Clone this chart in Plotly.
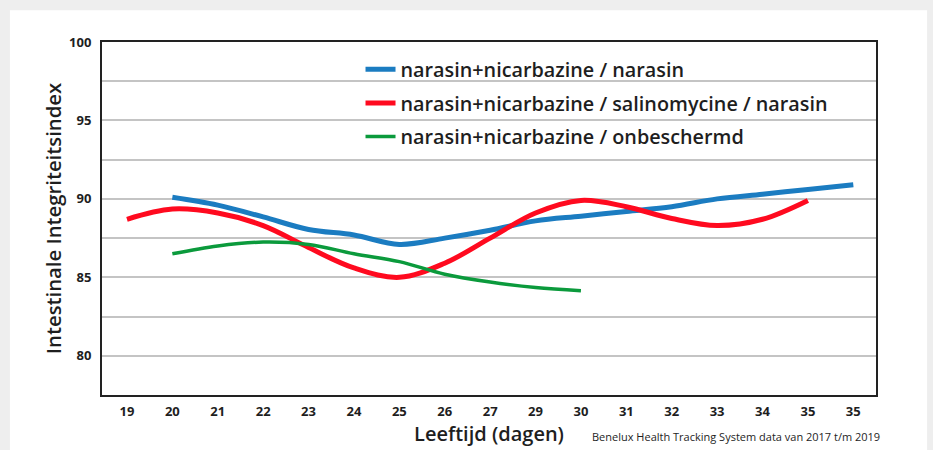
import plotly.graph_objects as go

# Categories (age in days, as printed on the x axis)
x_labels = ["19", "20", "21", "22", "23", "24", "25", "26", "27", "29",
            "30", "31", "32", "33", "34", "35", "35"]
x_pos = list(range(len(x_labels)))

# Series values (Intestinale Integriteitsindex)
blue_x = x_pos[1:17]
blue_y = [90.1, 89.6, 88.85, 88.05, 87.7, 87.1, 87.5, 88.0, 88.6, 88.9,
          89.2, 89.5, 90.0, 90.3, 90.6, 90.9]

red_x = x_pos[0:16]
red_y = [88.7, 89.35, 89.1, 88.3, 86.9, 85.6, 85.0, 85.9, 87.5, 89.1,
         89.9, 89.5, 88.75, 88.3, 88.7, 89.9]

green_x = x_pos[1:11]
green_y = [86.5, 87.0, 87.25, 87.1, 86.5, 86.0, 85.2, 84.7, 84.35, 84.15]

y_tickvals = [80, 82.5, 85, 87.5, 90, 92.5, 95, 97.5, 100]
y_ticktext = ["80", "", "85", "", "90", "", "95", "", "100"]

series_names = [
    "narasin+nicarbazine / narasin",
    "narasin+nicarbazine / salinomycine / narasin",
    "narasin+nicarbazine / onbeschermd",
]

FONT = "Open Sans"
DARK = "#1e1e1e"

fig = go.Figure()
fig.add_trace(go.Scatter(x=blue_x, y=blue_y, mode="lines", name=series_names[0],
                         legendgroup="a",
                         line=dict(color="#1b7cc1", width=5, shape="spline", smoothing=1.0)))
fig.add_trace(go.Scatter(x=red_x, y=red_y, mode="lines", name=series_names[1],
                         legendgroup="b",
                         line=dict(color="#ff0a1f", width=5, shape="spline", smoothing=1.0)))
fig.add_trace(go.Scatter(x=green_x, y=green_y, mode="lines", name=series_names[2],
                         legendgroup="c",
                         line=dict(color="#0b9a3c", width=3.5, shape="spline", smoothing=1.0)))

fig.update_layout(
    width=933, height=450,
    margin=dict(l=102, r=57, t=42, b=55),
    paper_bgcolor="#eeeeee",
    plot_bgcolor="white",
    font=dict(family=FONT, color=DARK),
    showlegend=True,
    legend=dict(
        x=0.334, y=0.978, xanchor="left", yanchor="top",
        bgcolor="rgba(0,0,0,0)",
        font=dict(family=FONT, size=19.8, color=DARK, weight=600),
        tracegroupgap=5, itemwidth=30,
    ),
    xaxis=dict(
        range=[-0.55, 16.5], automargin=False,
        tickmode="array", tickvals=x_pos, ticktext=x_labels,
        tickfont=dict(family=FONT, size=13, color=DARK, weight="bold"),
        showgrid=False, zeroline=False,
        showline=True, linecolor="#222222", linewidth=2, mirror=True,
        ticks="", ticklabelstandoff=3,
        title=dict(text="Leeftijd (dagen)",
                   font=dict(family=FONT, size=20, color=DARK, weight=600),
                   standoff=4),
    ),
    yaxis=dict(
        range=[77.5, 100], automargin=False,
        tickmode="array", tickvals=y_tickvals, ticktext=y_ticktext,
        tickfont=dict(family=FONT, size=13, color=DARK, weight="bold"),
        showgrid=True, gridcolor="#c4c4c4", gridwidth=1.5,
        zeroline=False,
        showline=True, linecolor="#222222", linewidth=2, mirror=True,
        ticks="", ticklabelstandoff=6,
        title=dict(text="Intestinale Integriteitsindex",
                   font=dict(family=FONT, size=20.3, color=DARK, weight=600),
                   standoff=2),
    ),
    shapes=[dict(type="rect", xref="paper", yref="paper",
                 x0=-0.119, x1=1.066, y0=-0.3, y1=1.09,
                 fillcolor="white", line=dict(width=0), layer="below")],
    annotations=[dict(text="Benelux Health Tracking System data van 2017 t/m 2019",
                      xref="paper", yref="paper", x=1.008, y=-0.09,
                      xanchor="right", yanchor="top", showarrow=False,
                      font=dict(family=FONT, size=11, color=DARK))],
)

fig.write_html("out.html",
               config={"displayModeBar": False},
               post_script="document.body.style.margin='0';document.body.style.background='#eeeeee';")
